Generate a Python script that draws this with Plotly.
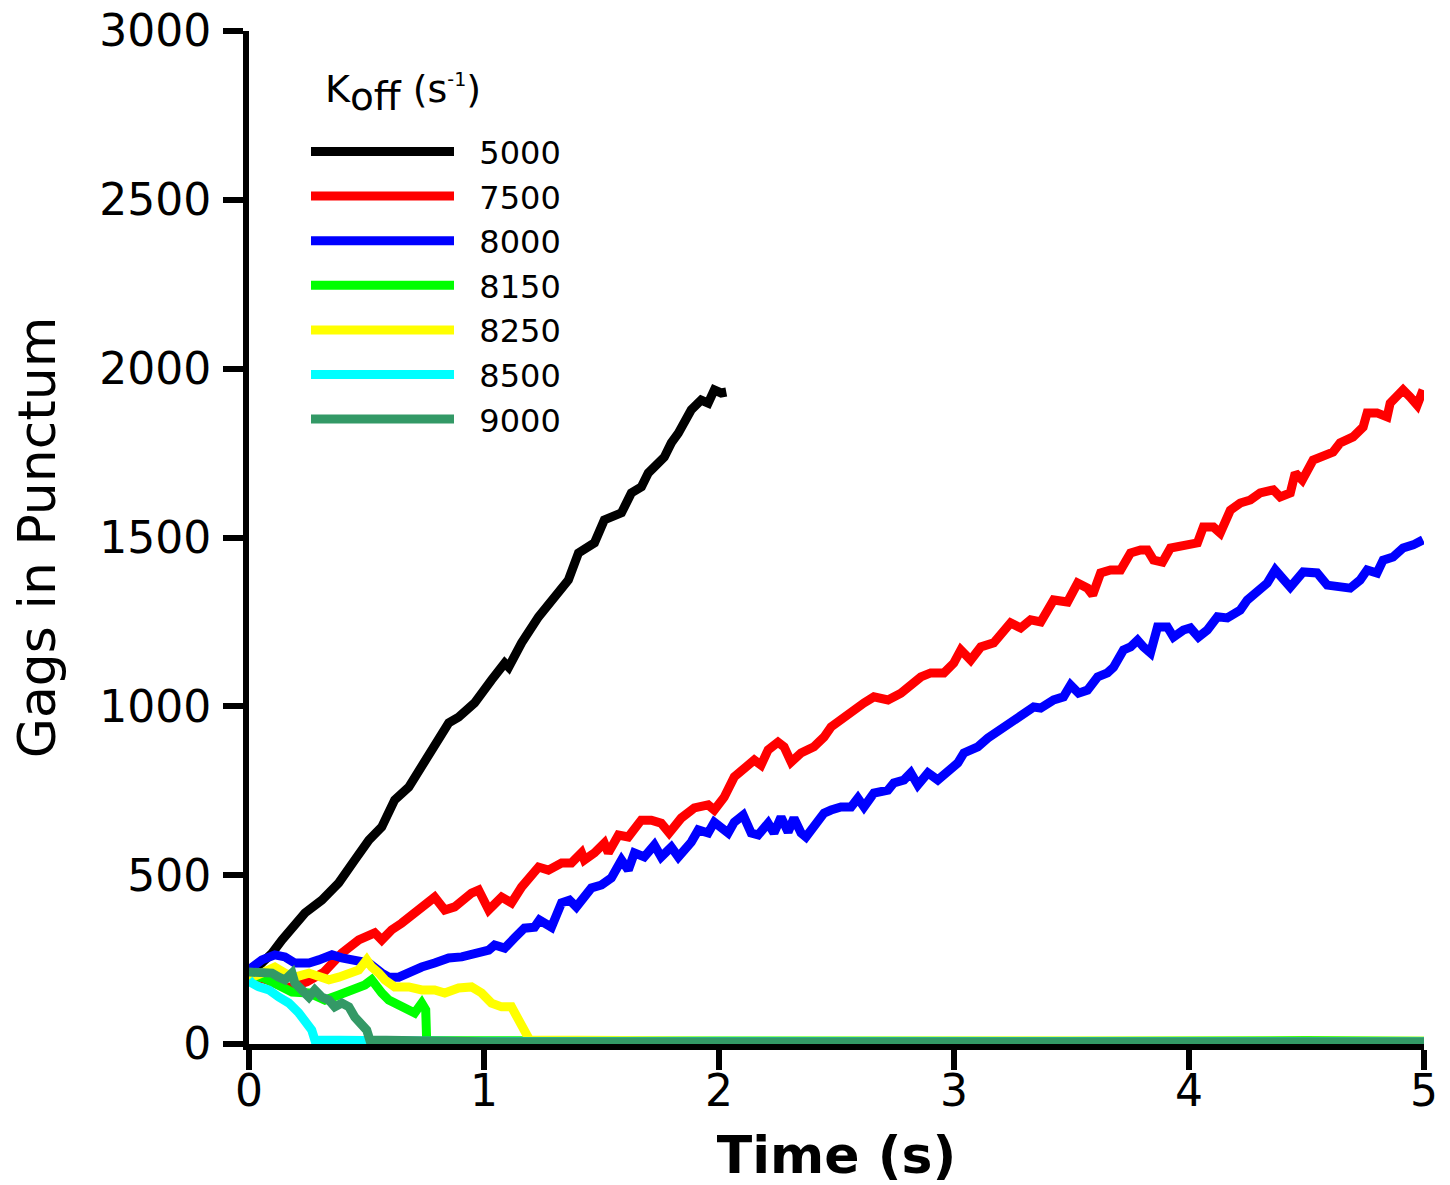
import plotly.graph_objects as go

# Gags in punctum vs time for several Koff values
t_5000 = [0, 0.055, 0.098, 0.140, 0.183, 0.238, 0.310, 0.382, 0.450, 0.510, 0.565, 0.620,
          0.680, 0.735, 0.790, 0.850, 0.892, 0.960, 1.032, 1.088, 1.105, 1.160, 1.232,
          1.287, 1.359, 1.402, 1.470, 1.512, 1.585, 1.627, 1.670, 1.699, 1.767, 1.797,
          1.827, 1.882, 1.924, 1.954, 1.980, 2.009, 2.031]
v_5000 = [204, 240, 269, 308, 346, 388, 426, 477, 545, 604, 643, 723, 761, 820, 880, 951,
          968, 1010, 1078, 1128, 1116, 1188, 1265, 1315, 1374, 1454, 1484, 1552, 1573,
          1632, 1650, 1691, 1738, 1780, 1809, 1878, 1907, 1898, 1937, 1928, 1931]

t_7500 = [0, 0.076, 0.161, 0.246, 0.319, 0.395, 0.467, 0.535, 0.565, 0.607, 0.650, 0.705,
          0.765, 0.790, 0.833, 0.875, 0.947, 0.977, 1.020, 1.045, 1.075, 1.117, 1.160,
          1.232, 1.274, 1.330, 1.372, 1.415, 1.427, 1.470, 1.512, 1.529, 1.572, 1.614,
          1.669, 1.712, 1.754, 1.788, 1.839, 1.895, 1.954, 1.980, 2.022, 2.065, 2.107,
          2.150, 2.179, 2.209, 2.251, 2.277, 2.307, 2.349, 2.404, 2.447, 2.477, 2.519,
          2.562, 2.617, 2.659, 2.719, 2.774, 2.804, 2.859, 2.901, 2.957, 2.999, 3.029,
          3.071, 3.114, 3.169, 3.207, 3.241, 3.284, 3.326, 3.369, 3.424, 3.483, 3.526,
          3.568, 3.590, 3.624, 3.666, 3.709, 3.751, 3.794, 3.823, 3.849, 3.887, 3.921,
          3.993, 4.036, 4.061, 4.104, 4.133, 4.176, 4.218, 4.261, 4.303, 4.359, 4.388,
          4.431, 4.452, 4.482, 4.528, 4.571, 4.613, 4.643, 4.698, 4.741, 4.758, 4.800,
          4.843, 4.856, 4.911, 4.941, 4.971, 4.996]
v_7500 = [204, 190, 166, 184, 213, 269, 308, 329, 308, 338, 358, 388, 426, 435, 397, 406,
          447, 456, 397, 418, 435, 418, 465, 524, 515, 536, 536, 566, 545, 566, 595, 566,
          619, 613, 663, 663, 654, 625, 669, 699, 708, 693, 731, 791, 820, 841, 826, 871,
          894, 880, 835, 862, 880, 909, 939, 960, 989, 1010, 1028, 1019, 1039, 1057,
          1087, 1099, 1099, 1128, 1167, 1137, 1176, 1188, 1217, 1247, 1232, 1256, 1250,
          1315, 1309, 1365, 1350, 1330, 1395, 1404, 1404, 1454, 1463, 1463, 1433, 1427,
          1469, 1478, 1484, 1531, 1531, 1513, 1581, 1602, 1611, 1632, 1641, 1620, 1632,
          1691, 1670, 1729, 1738, 1753, 1780, 1798, 1827, 1869, 1869, 1857, 1898, 1937,
          1916, 1892, 1937]

t_8000 = [0, 0.013, 0.055, 0.110, 0.153, 0.195, 0.255, 0.297, 0.353, 0.395, 0.450, 0.510,
          0.565, 0.595, 0.637, 0.680, 0.735, 0.790, 0.850, 0.905, 0.960, 1.020, 1.045,
          1.088, 1.130, 1.172, 1.215, 1.236, 1.287, 1.330, 1.364, 1.393, 1.457, 1.500,
          1.542, 1.585, 1.614, 1.640, 1.682, 1.725, 1.754, 1.797, 1.827, 1.882, 1.912,
          1.954, 1.980, 2.039, 2.065, 2.103, 2.137, 2.167, 2.209, 2.234, 2.264, 2.294,
          2.319, 2.349, 2.370, 2.404, 2.447, 2.477, 2.519, 2.562, 2.591, 2.617, 2.659,
          2.719, 2.744, 2.787, 2.816, 2.846, 2.889, 2.931, 2.974, 3.016, 3.042, 3.101,
          3.144, 3.199, 3.241, 3.284, 3.339, 3.369, 3.424, 3.466, 3.496, 3.530, 3.568,
          3.611, 3.653, 3.679, 3.721, 3.751, 3.781, 3.806, 3.836, 3.866, 3.908, 3.934,
          3.976, 4.006, 4.040, 4.078, 4.121, 4.163, 4.218, 4.248, 4.291, 4.333, 4.367,
          4.401, 4.431, 4.486, 4.545, 4.588, 4.643, 4.686, 4.728, 4.758, 4.800, 4.826,
          4.868, 4.911, 4.954, 4.996]
v_8000 = [220, 228, 249, 264, 258, 240, 240, 249, 264, 255, 249, 240, 210, 198, 198, 213,
          228, 240, 255, 258, 269, 278, 293, 284, 314, 343, 346, 367, 346, 418, 426, 406,
          462, 471, 492, 545, 515, 566, 554, 589, 554, 583, 554, 598, 634, 625, 657, 625,
          657, 678, 625, 619, 654, 625, 672, 628, 669, 625, 613, 640, 684, 693, 702, 702,
          728, 702, 743, 752, 773, 782, 803, 767, 803, 782, 811, 832, 862, 880, 906, 930,
          951, 974, 998, 995, 1019, 1028, 1063, 1039, 1048, 1087, 1099, 1116, 1167, 1176,
          1196, 1176, 1158, 1235, 1235, 1205, 1226, 1232, 1205, 1226, 1265, 1262, 1285,
          1315, 1344, 1365, 1404, 1374, 1353, 1398, 1395, 1359, 1353, 1350, 1374, 1404,
          1395, 1433, 1442, 1469, 1478, 1493]

t_8150 = [0, 0.064, 0.106, 0.183, 0.255, 0.323, 0.382, 0.438, 0.493, 0.522, 0.544, 0.565,
          0.595, 0.637, 0.680, 0.705, 0.735, 0.752, 0.756, 1.5, 2.5, 3.5, 4.5, 5.0]
v_8150 = [204, 195, 181, 154, 151, 130, 145, 160, 175, 190, 166, 151, 130, 115, 101, 92,
          121, 101, 10, 8, 9, 8, 10, 8]

t_8250 = [0, 0.013, 0.055, 0.110, 0.153, 0.195, 0.255, 0.297, 0.340, 0.382, 0.425, 0.467,
          0.501, 0.522, 0.552, 0.578, 0.620, 0.680, 0.735, 0.790, 0.833, 0.892, 0.947,
          0.990, 1.032, 1.075, 1.117, 1.147, 1.172, 1.194, 2.0, 3.0, 4.0, 5.0]
v_8250 = [204, 198, 210, 228, 210, 198, 210, 198, 190, 198, 210, 219, 249, 228, 210, 190,
          169, 169, 160, 160, 151, 166, 169, 151, 121, 110, 110, 71, 41, 12, 9, 8, 10, 8]

t_8500 = [0, 0.013, 0.042, 0.085, 0.127, 0.170, 0.212, 0.238, 0.267, 0.280, 1.0, 2.0, 3.0,
          4.0, 5.0]
v_8500 = [190, 180, 169, 160, 139, 121, 92, 71, 41, 12, 7, 8, 7, 8, 7]

t_9000 = [0, 0.055, 0.098, 0.127, 0.153, 0.183, 0.195, 0.225, 0.255, 0.280, 0.310, 0.340,
          0.365, 0.395, 0.425, 0.450, 0.480, 0.501, 0.514, 1.0, 2.0, 3.0, 4.0, 4.53, 4.56,
          5.0]
v_9000 = [213, 213, 210, 198, 190, 210, 181, 160, 139, 160, 139, 130, 110, 121, 110, 80,
          62, 41, 12, 7, 7, 7, 7, 13, 7, 7]

koff_labels = ["5000", "7500", "8000", "8150", "8250", "8500", "9000"]
colors = ["#000000", "#ff0000", "#0000ff", "#00ff00", "#ffff00", "#00ffff", "#339966"]
series = [(t_5000, v_5000), (t_7500, v_7500), (t_8000, v_8000), (t_8150, v_8150),
          (t_8250, v_8250), (t_8500, v_8500), (t_9000, v_9000)]

x_ticks = [0, 1, 2, 3, 4, 5]
y_ticks = [0, 500, 1000, 1500, 2000, 2500, 3000]

FONT = "DejaVu Sans"
LABEL_PAD = "\u00a0\u00a0"  # extra gap between legend swatch and its label

ML, MR, MT, MB = 249, 26, 31, 141
PLOT_W = 1450 - ML - MR
PLOT_H = 1185 - MT - MB

fig = go.Figure()
for label, color, (t, v) in zip(koff_labels, colors, series):
    fig.add_trace(go.Scatter(x=t, y=v, mode="lines", name=LABEL_PAD + label,
                             line=dict(color=color, width=9)))

axis_common = dict(
    showline=True, linecolor="black", linewidth=6,
    ticks="outside", ticklen=20, tickwidth=6, tickcolor="black",
    showgrid=False, zeroline=False, automargin=False,
    tickfont=dict(family=FONT, size=44, color="black"),
)

fig.update_xaxes(range=[0, 5], tickvals=x_ticks, ticktext=[str(x) for x in x_ticks],
                 ticklabelstandoff=-17,
                 title=dict(text="<b>Time (s)</b>", font=dict(family=FONT, size=52, color="black"),
                            standoff=31),
                 **axis_common)
fig.update_yaxes(range=[0, 3000], tickvals=y_ticks, ticktext=[str(y) for y in y_ticks],
                 ticklabelstandoff=3,
                 title=dict(text="Gags in Punctum", font=dict(family=FONT, size=52, color="black"),
                            standoff=29),
                 **axis_common)

# legend heading: K_off (s^-1)
fig.add_annotation(
    text=("K<sub><span style='font-size:39px'>off</span></sub>"
          " (s<sup><span style='font-size:19px'>-1</span></sup>)"),
    xref="paper", yref="paper",
    x=(323 - ML) / PLOT_W, y=1 - (93 - MT) / PLOT_H, xanchor="left", yanchor="middle",
    showarrow=False, font=dict(family=FONT, size=38, color="black"),
)

fig.update_layout(
    width=1450, height=1185,
    margin=dict(l=ML, r=MR, t=MT, b=MB),
    paper_bgcolor="white", plot_bgcolor="white",
    font=dict(family=FONT, color="black"),
    legend=dict(
        font=dict(family=FONT, size=32, color="black"),
        x=(306 - ML) / PLOT_W, y=0.908, xanchor="left", yanchor="top",
        bgcolor="rgba(0,0,0,0)", itemwidth=143, tracegroupgap=0,
    ),
)

fig.write_html("out.html")
